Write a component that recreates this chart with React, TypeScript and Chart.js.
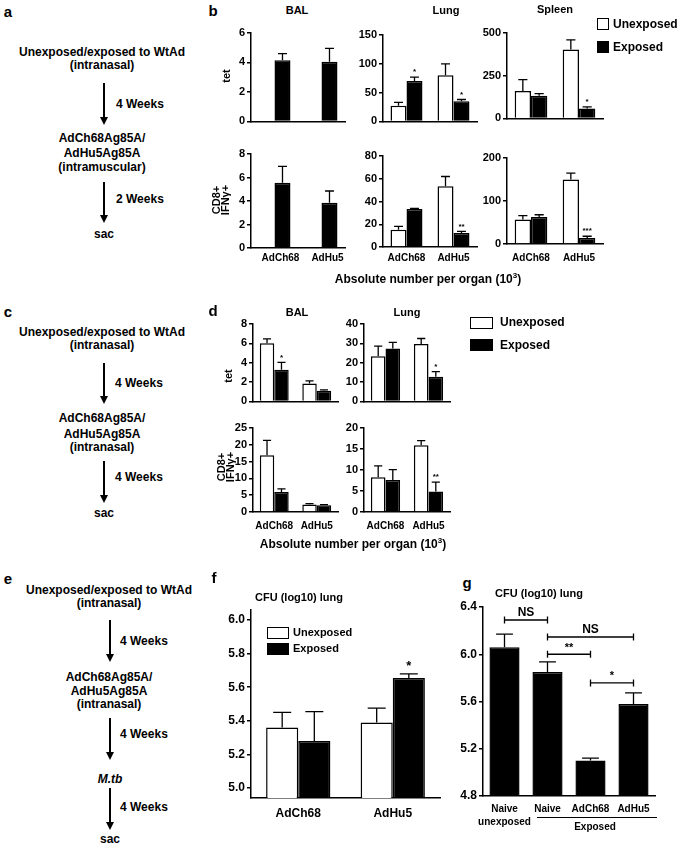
import React, { useEffect, useRef } from "react";
import { Chart, registerables } from "chart.js";

Chart.register(...registerables);

const FONT = '"Liberation Sans", Arial, Helvetica, sans-serif';
Chart.defaults.font.family = FONT;
Chart.defaults.font.weight = "bold" as any;
Chart.defaults.color = "#000";

// ---------------- data ----------------
const vectors = ["AdCh68", "AdHu5"];

// Panel b — absolute number per organ (10^3), WtAd then intramuscular vaccine
const bBalTetUnexposed = [null, null];
const bBalTetExposed = [4.15, 4.05];
const bBalTetExposedSem = [0.45, 0.9];

const bLungTetUnexposed = [27, 80];
const bLungTetUnexposedSem = [6, 20];
const bLungTetExposed = [70, 35];
const bLungTetExposedSem = [7, 3];
const bLungTetStars = ["*", "*"];

const bSpleenTetUnexposed = [160, 404];
const bSpleenTetUnexposedSem = [67, 56];
const bSpleenTetExposed = [133, 58];
const bSpleenTetExposedSem = [12, 9];
const bSpleenTetStars = ["", "*"];

const bBalCd8Unexposed = [null, null];
const bBalCd8Exposed = [5.55, 3.85];
const bBalCd8ExposedSem = [1.4, 1.0];

const bLungCd8Unexposed = [15.2, 53.5];
const bLungCd8UnexposedSem = [3, 8.5];
const bLungCd8Exposed = [33.5, 12.3];
const bLungCd8ExposedSem = [0.5, 1.5];
const bLungCd8Stars = ["", "**"];

const bSpleenCd8Unexposed = [57, 150];
const bSpleenCd8UnexposedSem = [9, 15];
const bSpleenCd8Exposed = [63, 14];
const bSpleenCd8ExposedSem = [5, 4];
const bSpleenCd8Stars = ["", "***"];

// Panel d — intranasal vaccine
const dBalTetUnexposed = [6.0, 1.84];
const dBalTetUnexposedSem = [0.47, 0.29];
const dBalTetExposed = [3.27, 1.11];
const dBalTetExposedSem = [0.76, 0.09];
const dBalTetStars = ["*", ""];

const dLungTetUnexposed = [23.3, 29.7];
const dLungTetUnexposedSem = [5.3, 2.8];
const dLungTetExposed = [27.3, 12.7];
const dLungTetExposedSem = [3.2, 2.7];
const dLungTetStars = ["", "*"];

const dBalCd8Unexposed = [16.9, 2.2];
const dBalCd8UnexposedSem = [4.4, 0.3];
const dBalCd8Exposed = [5.95, 2.0];
const dBalCd8ExposedSem = [0.95, 0.2];

const dLungCd8Unexposed = [8.25, 15.9];
const dLungCd8UnexposedSem = [2.75, 1.1];
const dLungCd8Exposed = [7.6, 4.9];
const dLungCd8ExposedSem = [2.5, 2.2];
const dLungCd8Stars = ["", "**"];

// Panel f — CFU (log10) lung
const fUnexposed = [5.36, 5.39];
const fUnexposedSem = [0.09, 0.085];
const fExposed = [5.28, 5.655];
const fExposedSem = [0.175, 0.025];
const fStars = ["", "*"];
const fTicks = [5.0, 5.2, 5.4, 5.6, 5.8, 6.0];

// Panel g — CFU (log10) lung
const gLabels = [["Naive", "unexposed"], "Naive", "AdCh68", "AdHu5"];
const gValues = [6.06, 5.85, 5.1, 5.578];
const gSem = [0.11, 0.085, 0.02, 0.095];
const gBrackets = [
  { from: 0, to: 1, y: 6.29, label: "NS" },
  { from: 1, to: 3, y: 6.146, label: "NS" },
  { from: 1, to: 2, y: 6.0, label: "**" },
  { from: 2, to: 3, y: 5.757, label: "*" },
];

// ---------------- plugins ----------------
const errorBarPlugin = {
  id: "errorBars",
  afterDatasetsDraw(chart: any, _a: any, opts: any) {
    const ctx = chart.ctx;
    const ys = chart.scales.y;
    chart.data.datasets.forEach((ds: any, i: number) => {
      const meta = chart.getDatasetMeta(i);
      meta.data.forEach((bar: any, j: number) => {
        const v = ds.data[j];
        if (v == null) return;
        const e = ds.sem ? ds.sem[j] || 0 : 0;
        const x = bar.x;
        const w = bar.width;
        const yBar = ys.getPixelForValue(v);
        const yTop = ys.getPixelForValue(v + e);
        ctx.save();
        ctx.strokeStyle = "#000";
        ctx.lineWidth = 1.3;
        if (e > 0) {
          ctx.beginPath();
          ctx.moveTo(x, yBar);
          ctx.lineTo(x, yTop);
          ctx.moveTo(x - w * 0.28, yTop);
          ctx.lineTo(x + w * 0.28, yTop);
          ctx.stroke();
        }
        const s = ds.stars ? ds.stars[j] : "";
        if (s) {
          ctx.fillStyle = "#000";
          ctx.font = `bold ${opts.starFont || 8}px ${FONT}`;
          ctx.textAlign = "center";
          ctx.textBaseline = "bottom";
          ctx.fillText(s, x, yTop - 1);
        }
        ctx.restore();
      });
    });
  },
};

const bracketPlugin = {
  id: "brackets",
  afterDatasetsDraw(chart: any, _a: any, opts: any) {
    const items = (opts && opts.items) || [];
    if (!items.length) return;
    const ctx = chart.ctx;
    const xs = chart.scales.x;
    const ys = chart.scales.y;
    items.forEach((b: any) => {
      const x1 = xs.getPixelForValue(b.from);
      const x2 = xs.getPixelForValue(b.to);
      const yy = ys.getPixelForValue(b.y);
      ctx.save();
      ctx.strokeStyle = "#000";
      ctx.lineWidth = 1.3;
      ctx.beginPath();
      ctx.moveTo(x1, yy);
      ctx.lineTo(x2, yy);
      ctx.moveTo(x1, yy - 3.5);
      ctx.lineTo(x1, yy + 3.5);
      ctx.moveTo(x2, yy - 3.5);
      ctx.lineTo(x2, yy + 3.5);
      ctx.stroke();
      ctx.fillStyle = "#000";
      ctx.font = `bold ${b.label === "NS" ? 12 : 11}px ${FONT}`;
      ctx.textAlign = "center";
      ctx.textBaseline = "bottom";
      ctx.fillText(b.label, (x1 + x2) / 2, yy - 1);
      ctx.restore();
    });
  },
};

// ---------------- chart box ----------------
type Series = { data: (number | null)[]; sem?: number[]; stars?: string[]; fill: string };
type Spec = {
  labels: any[];
  series: Series[];
  min: number;
  max: number;
  step?: number;
  ticks?: number[];
  decimals?: number;
  left: number;
  right: number;
  top: number;
  bottom: number;
  showX: boolean;
  tickFont: number;
  catFont: number;
  xPad: number;
  xH: number;
  starFont: number;
  catPct: number;
  labelOffset?: number;
  lineHeight?: number;
  brackets?: { from: number; to: number; y: number; label: string }[];
};

const YW = 34;
const PT = 10;
const PR = 6;

function ChartBox({ spec }: { spec: Spec }) {
  const ref = useRef<HTMLCanvasElement>(null);
  const w = YW + (spec.right - spec.left) + PR;
  const h = PT + (spec.bottom - spec.top) + spec.xH;
  useEffect(() => {
    const chart = new Chart(ref.current as HTMLCanvasElement, {
      type: "bar",
      data: {
        labels: spec.labels,
        datasets: spec.series.map((s) => ({
          data: s.data,
          sem: s.sem,
          stars: s.stars,
          backgroundColor: s.fill,
          borderColor: "#000",
          borderWidth: 1.5,
          categoryPercentage: spec.catPct,
          barPercentage: 1,
        })) as any,
      },
      options: {
        responsive: false,
        animation: false,
        devicePixelRatio: 1,
        layout: { padding: { top: PT, right: PR, left: 0, bottom: 0 } },
        plugins: {
          legend: { display: false },
          tooltip: { enabled: false },
          errorBars: { starFont: spec.starFont },
          brackets: { items: spec.brackets || [] },
        } as any,
        scales: {
          x: {
            grid: { display: false, drawTicks: false },
            border: { display: true, color: "#000", width: 1.5 },
            ticks: {
              display: spec.showX,
              color: "#000",
              font: { size: spec.catFont, weight: "bold", family: FONT, lineHeight: spec.lineHeight || 1.2 },
              padding: spec.xPad,
              maxRotation: 0,
              autoSkip: false,
              labelOffset: spec.labelOffset || 0,
            },
            afterFit: (s: any) => {
              s.height = spec.xH;
            },
          },
          y: {
            min: spec.min,
            max: spec.max,
            grid: {
              display: true,
              drawOnChartArea: false,
              drawTicks: true,
              tickLength: 4,
              color: "#000",
              lineWidth: 1.5,
            },
            border: { display: true, color: "#000", width: 1.5 },
            ticks: {
              stepSize: spec.step,
              color: "#000",
              font: { size: spec.tickFont, weight: "bold", family: FONT },
              padding: 2,
              callback: (v: any) => (spec.decimals ? Number(v).toFixed(spec.decimals) : String(v)),
            },
            afterBuildTicks: spec.ticks
              ? (s: any) => {
                  s.ticks = (spec.ticks as number[]).map((v) => ({ value: v }));
                }
              : undefined,
            afterFit: (s: any) => {
              s.width = YW;
            },
          },
        },
      } as any,
      plugins: [errorBarPlugin, bracketPlugin],
    });
    return () => chart.destroy();
  }, []);
  return (
    <canvas
      ref={ref}
      width={w}
      height={h}
      style={{ position: "absolute", left: spec.left - YW, top: spec.top - PT, width: w, height: h }}
    />
  );
}

const W = "#ffffff";
const K = "#000000";

function pair(u: (number | null)[], us: number[] | undefined, e: (number | null)[], es: number[], stars?: string[]): Series[] {
  return [
    { data: u, sem: us, fill: W },
    { data: e, sem: es, stars, fill: K },
  ];
}

const small = { tickFont: 11, catFont: 10, starFont: 8, catPct: 0.68 };

const specs: Spec[] = [
  // b top row (tet)
  { ...small, labels: vectors, series: pair(bBalTetUnexposed, undefined, bBalTetExposed, bBalTetExposedSem), min: 0, max: 6, step: 2, left: 251, right: 345, top: 33, bottom: 128, showX: false, xPad: 4, xH: 2 },
  { ...small, labels: vectors, series: pair(bLungTetUnexposed, bLungTetUnexposedSem, bLungTetExposed, bLungTetExposedSem, bLungTetStars), min: 0, max: 150, step: 50, left: 383, right: 477, top: 35, bottom: 128, showX: false, xPad: 4, xH: 2 },
  { ...small, labels: vectors, series: pair(bSpleenTetUnexposed, bSpleenTetUnexposedSem, bSpleenTetExposed, bSpleenTetExposedSem, bSpleenTetStars), min: 0, max: 500, step: 250, left: 507, right: 603, top: 33, bottom: 125, showX: false, xPad: 4, xH: 2 },
  // b bottom row (CD8+ IFNg+)
  { ...small, labels: vectors, series: pair(bBalCd8Unexposed, undefined, bBalCd8Exposed, bBalCd8ExposedSem), min: 0, max: 8, step: 2, left: 251, right: 345, top: 154, bottom: 248, showX: true, xPad: 4, xH: 20, labelOffset: 6 },
  { ...small, labels: vectors, series: pair(bLungCd8Unexposed, bLungCd8UnexposedSem, bLungCd8Exposed, bLungCd8ExposedSem, bLungCd8Stars), min: 0, max: 80, step: 20, left: 383, right: 477, top: 156, bottom: 247, showX: true, xPad: 5, xH: 20 },
  { ...small, labels: vectors, series: pair(bSpleenCd8Unexposed, bSpleenCd8UnexposedSem, bSpleenCd8Exposed, bSpleenCd8ExposedSem, bSpleenCd8Stars), min: 0, max: 200, step: 100, left: 507, right: 603, top: 158, bottom: 244, showX: true, xPad: 8, xH: 20 },
  // d
  { ...small, labels: vectors, series: pair(dBalTetUnexposed, dBalTetUnexposedSem, dBalTetExposed, dBalTetExposedSem, dBalTetStars), min: 0, max: 8, step: 2, left: 253, right: 338, top: 324, bottom: 408, showX: false, xPad: 4, xH: 2 },
  { ...small, labels: vectors, series: pair(dLungTetUnexposed, dLungTetUnexposedSem, dLungTetExposed, dLungTetExposedSem, dLungTetStars), min: 0, max: 40, step: 10, left: 364, right: 450, top: 324, bottom: 408, showX: false, xPad: 4, xH: 2 },
  { ...small, labels: vectors, series: pair(dBalCd8Unexposed, dBalCd8UnexposedSem, dBalCd8Exposed, dBalCd8ExposedSem), min: 0, max: 25, step: 5, left: 253, right: 338, top: 428, bottom: 512, showX: true, xPad: 8, xH: 22 },
  { ...small, labels: vectors, series: pair(dLungCd8Unexposed, dLungCd8UnexposedSem, dLungCd8Exposed, dLungCd8ExposedSem, dLungCd8Stars), min: 0, max: 20, step: 5, left: 364, right: 450, top: 428, bottom: 512, showX: true, xPad: 8, xH: 22 },
  // f
  { labels: vectors, series: pair(fUnexposed, fUnexposedSem, fExposed, fExposedSem, fStars), min: 4.94, max: 6.06, ticks: fTicks, decimals: 1, left: 251, right: 440, top: 610, bottom: 798, showX: true, tickFont: 12, catFont: 12, xPad: 8, xH: 24, starFont: 13, catPct: 0.68 },
  // g
  { labels: gLabels, series: [{ data: gValues, sem: gSem, fill: K }], min: 4.8, max: 6.4, step: 0.4, decimals: 1, left: 483, right: 655, top: 607, bottom: 796, showX: true, tickFont: 12, catFont: 10, xPad: 7, xH: 40, starFont: 12, catPct: 0.7, lineHeight: 1.3, brackets: gBrackets },
];

// ---------------- HTML text helpers ----------------
function Txt({ x, y, s = 12, a = "c", it, rot, lh, children }: any) {
  const tx = a === "c" ? "-50%" : a === "l" ? "0" : "-100%";
  return (
    <div
      style={{
        position: "absolute",
        left: x,
        top: y,
        transform: `translate(${tx}, -50%)${rot ? ` rotate(${rot}deg)` : ""}`,
        fontFamily: FONT,
        fontWeight: "bold",
        fontSize: s,
        fontStyle: it ? "italic" : "normal",
        whiteSpace: "nowrap",
        lineHeight: lh ?? 1,
        textAlign: "center",
        color: "#000",
      }}
    >
      {children}
    </div>
  );
}

function Arrow({ x, y1, y2 }: { x: number; y1: number; y2: number }) {
  return (
    <>
      <div style={{ position: "absolute", left: x - 1, top: y1, width: 2, height: y2 - y1 - 6, background: "#000" }} />
      <div
        style={{
          position: "absolute",
          left: x - 4,
          top: y2 - 8,
          width: 0,
          height: 0,
          borderLeft: "4px solid transparent",
          borderRight: "4px solid transparent",
          borderTop: "8px solid #000",
        }}
      />
    </>
  );
}

function Swatch({ x, y, w, h, fill }: any) {
  return (
    <div
      style={{
        position: "absolute",
        left: x,
        top: y,
        width: w,
        height: h,
        boxSizing: "border-box",
        border: "1.5px solid #000",
        background: fill,
      }}
    />
  );
}

const Cd8 = ({ x, y }: any) => (
  <Txt x={x} y={y} s={11} rot={-90} lh={0.85}>
    CD8+
    <br />
    IFNγ+
  </Txt>
);

const AbsTitle = ({ x, y }: any) => (
  <Txt x={x} y={y} s={12}>
    Absolute number per organ (10<span style={{ fontSize: 8, verticalAlign: "super" }}>3</span>)
  </Txt>
);

export default function App() {
  useEffect(() => {
    document.body.style.margin = "0";
  }, []);
  return (
    <div style={{ position: "absolute", left: 0, top: 0, width: 685, height: 846, background: "#fff", overflow: "hidden" }}>
      {specs.map((s, i) => (
        <ChartBox key={i} spec={s} />
      ))}

      {/* panel a */}
      <Txt x={8} y={11} s={15}>a</Txt>
      <Txt x={102} y={52}>Unexposed/exposed to WtAd</Txt>
      <Txt x={102} y={65}>(intranasal)</Txt>
      <Arrow x={104} y1={83} y2={125} />
      <Txt x={116} y={104} a="l">4 Weeks</Txt>
      <Txt x={102} y={138}>AdCh68Ag85A/</Txt>
      <Txt x={102} y={153}>AdHu5Ag85A</Txt>
      <Txt x={102} y={167}>(intramuscular)</Txt>
      <Arrow x={104} y1={182} y2={223} />
      <Txt x={116} y={199} a="l">2 Weeks</Txt>
      <Txt x={104} y={234}>sac</Txt>

      {/* panel c */}
      <Txt x={8} y={311} s={15}>c</Txt>
      <Txt x={102} y={332}>Unexposed/exposed to WtAd</Txt>
      <Txt x={102} y={345}>(intranasal)</Txt>
      <Arrow x={104} y1={363} y2={404} />
      <Txt x={115} y={383} a="l">4 Weeks</Txt>
      <Txt x={102} y={418}>AdCh68Ag85A/</Txt>
      <Txt x={102} y={434}>AdHu5Ag85A</Txt>
      <Txt x={102} y={447}>(intranasal)</Txt>
      <Arrow x={104} y1={461} y2={503} />
      <Txt x={115} y={477} a="l">4 Weeks</Txt>
      <Txt x={104} y={513}>sac</Txt>

      {/* panel e */}
      <Txt x={8} y={578} s={15}>e</Txt>
      <Txt x={109} y={590}>Unexposed/exposed to WtAd</Txt>
      <Txt x={109} y={603}>(intranasal)</Txt>
      <Arrow x={110} y1={620} y2={662} />
      <Txt x={120} y={641} a="l">4 Weeks</Txt>
      <Txt x={109} y={677}>AdCh68Ag85A/</Txt>
      <Txt x={109} y={691}>AdHu5Ag85A</Txt>
      <Txt x={109} y={704}>(intranasal)</Txt>
      <Arrow x={110} y1={718} y2={760} />
      <Txt x={120} y={734} a="l">4 Weeks</Txt>
      <Txt x={110} y={779} it>M.tb</Txt>
      <Arrow x={110} y1={788} y2={830} />
      <Txt x={120} y={807} a="l">4 Weeks</Txt>
      <Txt x={110} y={839}>sac</Txt>

      {/* panel b */}
      <Txt x={213} y={10} s={15}>b</Txt>
      <Txt x={297} y={10} s={11}>BAL</Txt>
      <Txt x={446} y={10} s={11}>Lung</Txt>
      <Txt x={555} y={9} s={11}>Spleen</Txt>
      <Txt x={226} y={76} s={11} rot={-90}>tet</Txt>
      <Cd8 x={221} y={200} />
      <AbsTitle x={428} y={278} />
      <Swatch x={597} y={18} w={12} h={12} fill={W} />
      <Txt x={613} y={24} a="l">Unexposed</Txt>
      <Swatch x={597} y={41} w={12} h={12} fill={K} />
      <Txt x={613} y={47} a="l">Exposed</Txt>

      {/* panel d */}
      <Txt x={213} y={310} s={15}>d</Txt>
      <Txt x={297} y={312} s={11}>BAL</Txt>
      <Txt x={407} y={312} s={11}>Lung</Txt>
      <Txt x={228} y={376} s={11} rot={-90}>tet</Txt>
      <Cd8 x={226} y={467} />
      <AbsTitle x={353} y={543} />
      <Swatch x={470} y={317} w={23} h={12} fill={W} />
      <Txt x={500} y={322} a="l">Unexposed</Txt>
      <Swatch x={470} y={339} w={23} h={12} fill={K} />
      <Txt x={500} y={345} a="l">Exposed</Txt>

      {/* panel f */}
      <Txt x={214} y={577} s={15}>f</Txt>
      <Txt x={255} y={597} s={11} a="l">CFU (log10) lung</Txt>
      <Swatch x={267} y={627} w={22} h={12} fill={W} />
      <Txt x={293} y={632} s={11} a="l">Unexposed</Txt>
      <Swatch x={267} y={643} w={22} h={12} fill={K} />
      <Txt x={293} y={648} s={11} a="l">Exposed</Txt>

      {/* panel g */}
      <Txt x={467} y={582} s={15}>g</Txt>
      <Txt x={495} y={593} s={11} a="l">CFU (log10) lung</Txt>
      <div style={{ position: "absolute", left: 537, top: 817, width: 120, height: 1, background: "#000" }} />
      <Txt x={595} y={827} s={10}>Exposed</Txt>
    </div>
  );
}
